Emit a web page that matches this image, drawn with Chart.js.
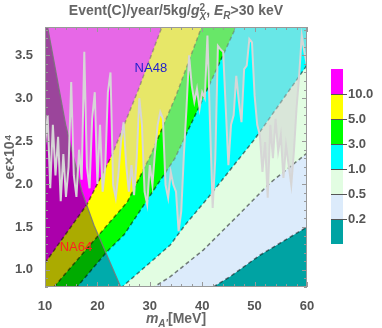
<!DOCTYPE html>
<html>
<head>
<meta charset="utf-8">
<script src="https://cdn.jsdelivr.net/npm/chart.js@4"></script>
<style>
  body { margin: 0; background: #fff; }
  #wrap { position: relative; width: 382px; height: 328px; }
  .lbl { position: absolute; font-family: 'Liberation Sans', Arial, sans-serif; font-weight: bold; color: #666; white-space: nowrap; }
  #title { left: 0; width: 352px; top: 2px; text-align: center; font-size: 14px; line-height: 16px; }
  #xlab { left: 0; width: 352px; top: 311px; text-align: center; font-size: 14px; line-height: 15px; }
  .ss { display: inline-block; vertical-align: -5px; line-height: 9px; font-size: 10px; text-align: left; }
  .ss span { display: block; }
  sub { font-size: 10px; }
</style>
</head>
<body>
<div id="wrap">
  <canvas id="c" width="382" height="328"></canvas>
  <div id="title" class="lbl">Event(C)/year/5kg/<i>g</i><span class="ss"><span>2</span><span><i>X</i></span></span>, <i>E<sub>R</sub></i>&gt;30 keV</div>
  <div id="xlab" class="lbl"><i>m</i><sub><i>A'</i></sub>[MeV]</div>
</div>
<script>
// 📌 colour legend: levels and band colours (lowest band first)
const levelLabels = ['10.0', '5.0', '3.0', '1.0', '0.5', '0.2'];
const bandColors = ['#00a3a3', '#dcebfb', '#e2fde2', '#00ffff', '#00ff00', '#ffff00', '#ff00ff'];

// 📌 axis ticks
const xTicks = [10, 20, 30, 40, 50, 60];
const yTicks = [1.0, 1.5, 2.0, 2.5, 3.0, 3.5];

// 📌 dashed contour lines (m_A' in MeV, eps x 1e4)
const m02 = [10, 42.1, 45.3, 51.0, 60];
const e02 = [0.0, 0.80, 0.92, 1.17, 1.50];
const m05 = [10, 30.8, 33.9, 40.2, 46.6, 52.9, 60];
const e05 = [0.0, 0.80, 0.92, 1.23, 1.62, 2.01, 2.36];
const m1 = [10, 24.7, 33.9, 36.7, 41.1, 50.1, 59.6, 60];
const e1 = [0.2, 0.80, 1.29, 1.52, 1.84, 2.53, 3.35, 3.39];
const m3 = [10, 16.1, 21.8, 25.1, 34.8, 41.1, 46.6, 48];
const e3 = [0.45, 0.80, 1.21, 1.41, 2.30, 3.12, 3.85, 4.1];
const m5 = [10, 11.7, 20.3, 25.7, 30.2, 35.0, 40.0, 41];
const e5 = [0.68, 0.80, 1.41, 1.79, 2.34, 3.03, 3.85, 4.0];
const m10 = [10, 18.0, 22.8, 25.1, 27.75, 32.3, 33.5];
const e10 = [1.08, 1.76, 2.34, 2.69, 3.09, 3.83, 4.05];

// 📌 NA64 bound (excluded to the left)
const mNA64 = [10, 10.44, 13.95, 17.06, 19.35, 24.45];
const eNA64 = [3.95, 3.85, 2.69, 1.91, 1.52, 0.80];

// 📌 NA48 bound (excluded above), noisy
const mNA48 = [10, 10.5, 11, 11.5, 12, 12.5, 13, 13.5, 14, 14.5, 15, 15.5, 16, 16.5, 17, 17.5, 18, 18.5, 19, 19.5,
  20, 20.5, 21, 21.5, 22, 22.5, 23, 23.5, 24, 24.5, 25, 25.5, 26, 26.5, 27, 27.5, 28, 28.5, 29, 29.5,
  30, 30.5, 31, 31.5, 32, 32.5, 33, 33.5, 34, 34.5, 35, 35.5, 36, 36.5, 37, 37.5, 38, 38.5, 39, 39.5,
  40, 40.5, 41, 41.5, 42, 42.5, 43, 43.5, 44, 44.5, 45, 45.5, 46, 46.5, 47, 47.5, 48, 48.5, 49, 49.5,
  50, 50.5, 51, 51.5, 52, 52.5, 53, 53.5, 54, 54.5, 55, 55.5, 56, 56.5, 57, 57.5, 58, 58.5, 59, 59.5, 60];
const eNA48 = [2.45, 2.80, 1.95, 2.69, 2.10, 2.55, 1.80, 2.35, 1.85, 2.20, 3.19, 2.10, 1.85, 2.40, 2.05, 3.54, 2.20, 1.95, 2.76, 3.07,
  2.00, 2.69, 1.91, 2.20, 3.07, 3.30, 1.99, 1.84, 2.11, 2.49, 2.72, 2.22, 1.91, 2.22, 1.87, 2.30, 3.00, 2.69, 1.91, 1.76,
  2.22, 1.99, 2.38, 2.69, 2.84, 2.76, 1.99, 1.84, 2.14, 1.99, 1.91, 1.45, 1.68, 2.34, 2.88, 3.50, 3.15, 2.96, 3.11, 2.88,
  3.07, 3.00, 3.73, 2.69, 1.72, 2.30, 3.61, 3.57, 3.54, 2.88, 2.22, 2.69, 2.80, 3.26, 2.96, 2.72, 3.34, 3.38, 3.69, 3.65,
  3.03, 2.69, 2.57, 2.14, 2.49, 1.84, 2.69, 2.30, 2.76, 2.38, 2.57, 2.07, 2.45, 2.22, 1.99, 2.38, 2.88, 3.26, 3.73, 3.54, 3.38];

const pts = (ms, es) => ms.map((m, i) => ({ x: m, y: es[i] }));

function contour(ms, es, color, order) {
    return { data: pts(ms, es), backgroundColor: color, fill: 'end', order: order,
        borderColor: 'rgba(0,0,0,0.5)', borderWidth: 1.5, borderDash: [4, 3], pointRadius: 0, clip: 0 };
}

// 📌 background (lowest band) + frame with inside ticks + region labels + colour bar
const bgPlugin = {
    id: 'bg',
    beforeDatasetsDraw(chart) {
        const { ctx, chartArea: a } = chart;
        ctx.save();
        ctx.fillStyle = bandColors[0];
        ctx.fillRect(a.left, a.top, a.right - a.left, a.bottom - a.top);
        ctx.restore();
    }
};

const framePlugin = {
    id: 'frame',
    afterDatasetsDraw(chart) {
        const { ctx, chartArea: a, scales } = chart;
        ctx.save();
        ctx.strokeStyle = '#999';
        ctx.lineWidth = 1;
        ctx.strokeRect(a.left + 0.5, a.top + 0.5, a.right - a.left - 1, a.bottom - a.top - 1);
        ctx.beginPath();
        for (let v = 10; v <= 60; v += 2) {
            const px = Math.round(scales.x.getPixelForValue(v)) + 0.5;
            const len = v % 10 === 0 ? 5 : 3;
            ctx.moveTo(px, a.bottom); ctx.lineTo(px, a.bottom - len);
            ctx.moveTo(px, a.top); ctx.lineTo(px, a.top + len);
        }
        for (let k = 8; k <= 38; k++) {
            const v = k / 10;
            const py = Math.round(scales.y.getPixelForValue(v)) + 0.5;
            const len = k % 5 === 0 ? 5 : 3;
            ctx.moveTo(a.left, py); ctx.lineTo(a.left + len, py);
            ctx.moveTo(a.right, py); ctx.lineTo(a.right - len, py);
        }
        ctx.stroke();

        ctx.font = '13px "Liberation Sans", Arial, sans-serif';
        ctx.textAlign = 'center';
        ctx.textBaseline = 'middle';
        ctx.fillStyle = '#2222cc';
        ctx.fillText('NA48', scales.x.getPixelForValue(30.2), scales.y.getPixelForValue(3.35));
        ctx.fillStyle = '#ff2020';
        ctx.fillText('NA64', scales.x.getPixelForValue(15.9), scales.y.getPixelForValue(1.26));
        ctx.restore();
    },
    afterDraw(chart) {
        const ctx = chart.ctx;
        const x0 = 331, w = 12, top = 69, h = 25;
        ctx.save();
        const n = bandColors.length;
        for (let i = 0; i < n; i++) {
            ctx.fillStyle = bandColors[n - 1 - i];
            ctx.fillRect(x0, top + i * h, w, h);
        }
        ctx.strokeStyle = '#555';
        ctx.lineWidth = 1;
        ctx.font = 'bold 13px "Liberation Sans", Arial, sans-serif';
        ctx.fillStyle = '#555';
        ctx.textAlign = 'left';
        ctx.textBaseline = 'middle';
        levelLabels.forEach((t, i) => {
            const y = top + (i + 1) * h + 0.5;
            ctx.beginPath(); ctx.moveTo(x0, y); ctx.lineTo(x0 + w + 4, y); ctx.stroke();
            ctx.fillText(t, x0 + w + 5, y);
        });
        ctx.restore();
    }
};

new Chart(document.getElementById('c'), {
    type: 'line',
    data: {
        datasets: [
            contour(m02, e02, bandColors[1], 20),
            contour(m05, e05, bandColors[2], 19),
            contour(m1, e1, bandColors[3], 18),
            contour(m3, e3, bandColors[4], 17),
            contour(m5, e5, bandColors[5], 16),
            contour(m10, e10, bandColors[6], 15),
            // NA48 shading (drawn below NA64), then NA64 shading, then the NA48 line on top
            { data: pts(mNA48, eNA48), fill: 'end', backgroundColor: 'rgba(208,208,208,0.5)', borderWidth: 0, borderColor: 'rgba(0,0,0,0)', pointRadius: 0, order: 5, clip: 0 },
            { data: pts(mNA64, eNA64), fill: 'start', backgroundColor: 'rgba(0,0,0,0.33)', borderColor: 'rgba(120,120,120,0.9)', borderWidth: 1.2, pointRadius: 0, order: 4, clip: 0 },
            { data: pts(mNA48, eNA48), fill: false, borderColor: '#d6d6d6', borderWidth: 2, pointRadius: 0, order: 3, clip: 0 }
        ]
    },
    options: {
        responsive: false,
        animation: false,
        layout: { padding: { top: 27, right: 75, left: 0, bottom: 0 } },
        plugins: { legend: { display: false }, tooltip: { enabled: false } },
        scales: {
            x: {
                type: 'linear', min: 10, max: 60,
                afterFit: s => { s.height = 41; },
                afterBuildTicks: s => { s.ticks = xTicks.map(v => ({ value: v })); },
                grid: { display: false },
                border: { display: false },
                ticks: { color: '#555', padding: 4, maxRotation: 0, font: { family: 'Liberation Sans', size: 13, weight: 'bold' } }
            },
            y: {
                type: 'linear', min: 0.8, max: 3.83,
                afterFit: s => { s.width = 45; },
                afterBuildTicks: s => { s.ticks = yTicks.map(v => ({ value: v })); },
                grid: { display: false },
                border: { display: false },
                ticks: { color: '#555', padding: 4, callback: v => v.toFixed(1), font: { family: 'Liberation Sans', size: 13, weight: 'bold' } },
                title: { display: true, text: 'eϵ×10⁴', color: '#666', padding: { top: 2, bottom: 0 }, font: { family: 'Liberation Sans', size: 14, weight: 'bold' } }
            }
        }
    },
    plugins: [bgPlugin, framePlugin]
});
</script>
</body>
</html>
